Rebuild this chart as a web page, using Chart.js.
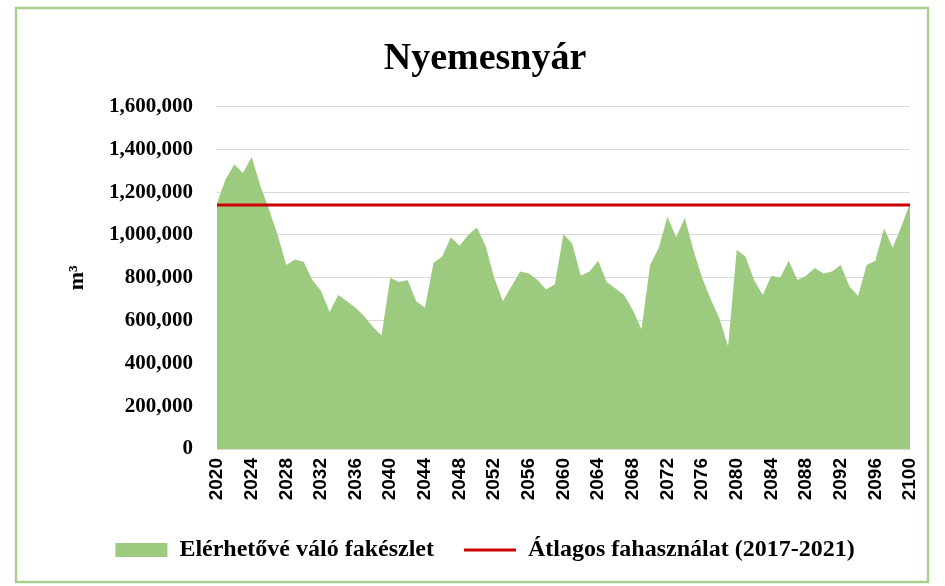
<!DOCTYPE html>
<html>
<head>
<meta charset="utf-8">
<script src="https://cdn.jsdelivr.net/npm/chart.js@4"></script>
<style>
  body { margin: 0; background: #fff; }
  #wrap { width: 945px; height: 586px; }
</style>
</head>
<body>
<div id="wrap"><canvas id="myChart"></canvas></div>
<script>
// years on the x axis
var years = ['2020','2021','2022','2023','2024','2025','2026','2027','2028','2029',
  '2030','2031','2032','2033','2034','2035','2036','2037','2038','2039',
  '2040','2041','2042','2043','2044','2045','2046','2047','2048','2049',
  '2050','2051','2052','2053','2054','2055','2056','2057','2058','2059',
  '2060','2061','2062','2063','2064','2065','2066','2067','2068','2069',
  '2070','2071','2072','2073','2074','2075','2076','2077','2078','2079',
  '2080','2081','2082','2083','2084','2085','2086','2087','2088','2089',
  '2090','2091','2092','2093','2094','2095','2096','2097','2098','2099',
  '2100'];

// available stock (m3)
var stock = [1150000,1260000,1330000,1290000,1365000,1230000,1120000,1000000,860000,885000,
  875000,790000,740000,640000,720000,690000,660000,620000,570000,530000,
  800000,780000,790000,690000,660000,870000,900000,990000,950000,1000000,
  1035000,950000,800000,690000,760000,830000,820000,790000,745000,770000,
  1005000,960000,810000,830000,880000,780000,750000,720000,650000,560000,
  860000,940000,1085000,990000,1080000,930000,800000,700000,610000,480000,
  930000,900000,790000,720000,810000,800000,880000,790000,810000,846000,
  820000,830000,860000,760000,715000,860000,880000,1030000,940000,1040000,
  1150000];

// average use 2017-2021, drawn from first to last year
var avgUse = [
  {x: '2020', y: 1140000},
  {x: '2100', y: 1140000}
];

var seriesNames = ['Elérhetővé váló fakészlet', 'Átlagos fahasználat (2017-2021)'];

var green = '#9cca7e';
var red = '#cc0000';
var serif = '"Liberation Serif", "Times New Roman", serif';

// white background + light green frame
var framePlugin = {
  id: 'frame',
  beforeDraw: function(chart) {
    var c = chart.ctx;
    c.save();
    c.fillStyle = '#fff';
    c.fillRect(0, 0, chart.width, chart.height);
    c.strokeStyle = '#a9d18e';
    c.lineWidth = 2.5;
    c.strokeRect(16, 8, 912, 574);
    c.restore();
  }
};

var ctx = document.getElementById('myChart').getContext('2d');
var myChart = new Chart(ctx, {
  type: 'line',
  data: {
    labels: years,
    datasets: [{
      label: seriesNames[0],
      data: stock,
      fill: 'origin',
      backgroundColor: green,
      borderWidth: 0,
      pointRadius: 0,
      tension: 0,
      order: 2
    }, {
      label: seriesNames[1],
      data: avgUse,
      borderColor: red,
      borderWidth: 3,
      pointRadius: 0,
      fill: false,
      order: 1
    }]
  },
  plugins: [framePlugin],
  options: {
    responsive: true,
    maintainAspectRatio: false,
    animation: false,
    layout: { padding: { top: 8, left: 60, right: 35, bottom: 14 } },
    plugins: {
      title: {
        display: true,
        text: 'Nyemesnyár',
        color: '#000',
        font: { family: serif, size: 38, weight: 'bold' },
        padding: { top: 28, bottom: 25 }
      },
      legend: {
        position: 'bottom',
        labels: {
          color: '#000',
          font: { family: serif, size: 24, weight: 'bold' },
          usePointStyle: true,
          pointStyleWidth: 52,
          boxHeight: 14,
          padding: 30,
          generateLabels: function(chart) {
            return [{
              text: seriesNames[0], fillStyle: green, strokeStyle: green,
              lineWidth: 0, pointStyle: 'rect', datasetIndex: 0
            }, {
              text: seriesNames[1], fillStyle: red, strokeStyle: red,
              lineWidth: 3, pointStyle: 'line', datasetIndex: 1
            }];
          }
        }
      },
      tooltip: { enabled: false }
    },
    scales: {
      x: {
        grid: { display: false, drawTicks: false },
        border: { display: false },
        ticks: {
          autoSkip: false,
          minRotation: 90,
          maxRotation: 90,
          padding: 9,
          color: '#000',
          font: { family: '"Liberation Sans", Arial, sans-serif', size: 19, weight: 'bold' },
          callback: function(val, i) { return i % 4 === 0 ? years[i] : ''; }
        },
        afterFit: function(scale) { scale.height = 59; }
      },
      y: {
        min: 0,
        max: 1600000,
        grid: { color: '#d9d9d9', drawTicks: false },
        border: { display: false },
        ticks: {
          stepSize: 200000,
          padding: 24,
          color: '#000',
          font: { family: serif, size: 21, weight: 'bold' },
          callback: function(v) { return v.toLocaleString('en-US'); }
        },
        title: {
          display: true,
          text: 'm³',
          color: '#000',
          font: { family: serif, size: 22, weight: 'bold' }
        },
        afterFit: function(scale) { scale.width = 157; }
      }
    }
  }
});
</script>
</body>
</html>
